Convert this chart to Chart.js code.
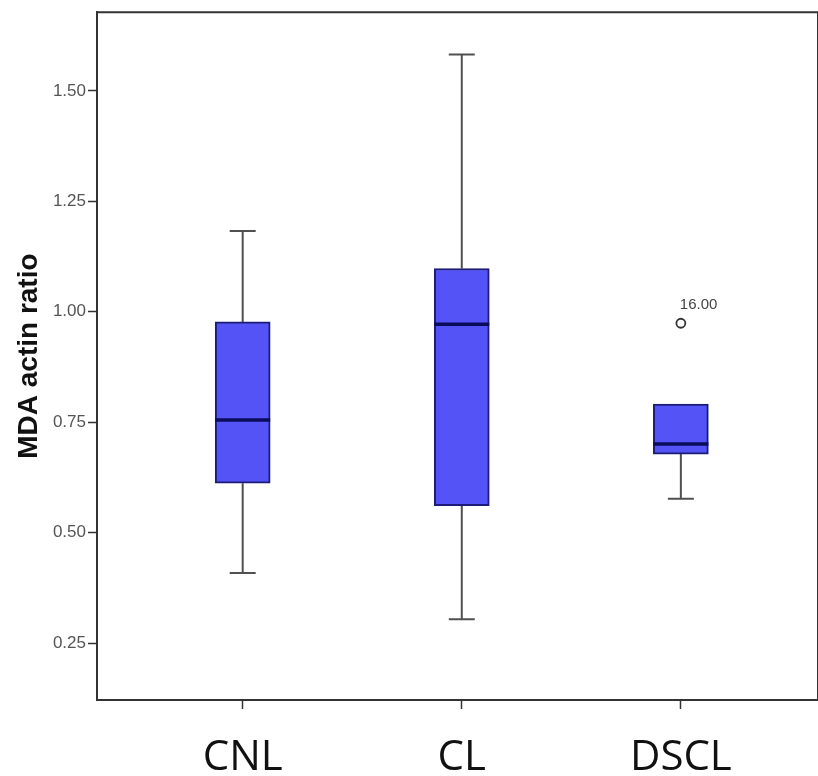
<!DOCTYPE html>
<html>
<head>
<meta charset="utf-8">
<title>MDA actin ratio</title>
<script src="https://cdn.jsdelivr.net/npm/chart.js@4.4.1/dist/chart.umd.min.js"></script>
<style>
  html, body { margin: 0; padding: 0; background: #fff; overflow: hidden; }
  #wrap { width: 818px; height: 776px; }
</style>
</head>
<body>
<div id="wrap"><canvas id="box"></canvas></div>
<script>
// data
var categories = ['CNL', 'CL', 'DSCL'];
var whiskerLow = [0.409, 0.304, 0.577];
var q1 = [0.612, 0.561, 0.678];
var medians = [0.755, 0.972, 0.701];
var q3 = [0.977, 1.098, 0.791];
var whiskerHigh = [1.183, 1.582, 0.791];

// outliers (category index, value, case label)
var outlierCat = [2];
var outlierValues = [0.974];
var outlierLabels = ['16.00'];

var yTicks = [0.25, 0.50, 0.75, 1.00, 1.25, 1.50];

var tickFont = "'Liberation Sans', Arial, sans-serif";

// whiskers, medians, case labels and the frame
var boxExtras = {
  id: 'boxExtras',
  beforeDatasetsDraw: function(chart) {
    var ctx = chart.ctx, x = chart.scales.x, y = chart.scales.y;
    ctx.save();
    ctx.strokeStyle = '#505050';
    ctx.lineWidth = 2;
    for (var i = 0; i < categories.length; i++) {
      var cx = x.getPixelForValue(i);
      var pairs = [[q3[i], whiskerHigh[i]], [q1[i], whiskerLow[i]]];
      pairs.forEach(function(p) {
        if (p[0] === p[1]) return;
        var y0 = y.getPixelForValue(p[0]), y1 = y.getPixelForValue(p[1]);
        ctx.beginPath();
        ctx.moveTo(cx, y0);
        ctx.lineTo(cx, y1);
        ctx.moveTo(cx - 13, y1);
        ctx.lineTo(cx + 13, y1);
        ctx.stroke();
      });
    }
    ctx.restore();
  },
  afterDatasetsDraw: function(chart) {
    var ctx = chart.ctx, x = chart.scales.x, y = chart.scales.y;
    var area = chart.chartArea;
    var bars = chart.getDatasetMeta(0).data;
    ctx.save();
    // medians
    ctx.strokeStyle = '#0b0b5c';
    ctx.lineWidth = 3.5;
    bars.forEach(function(el, i) {
      var my = y.getPixelForValue(medians[i]);
      ctx.beginPath();
      ctx.moveTo(el.x - el.width / 2, my);
      ctx.lineTo(el.x + el.width / 2, my);
      ctx.stroke();
    });
    // outlier labels
    ctx.fillStyle = '#444';
    ctx.font = '15px ' + tickFont;
    ctx.textAlign = 'left';
    ctx.textBaseline = 'alphabetic';
    for (var k = 0; k < outlierValues.length; k++) {
      ctx.fillText(outlierLabels[k], x.getPixelForValue(outlierCat[k]) - 1, y.getPixelForValue(outlierValues[k]) - 14);
    }
    // top and right frame
    ctx.strokeStyle = '#333';
    ctx.lineWidth = 2;
    ctx.beginPath();
    ctx.moveTo(area.left, area.top);
    ctx.lineTo(area.right, area.top);
    ctx.lineTo(area.right, area.bottom);
    ctx.stroke();
    ctx.restore();
  }
};

var boxData = categories.map(function(c, i) {
  return { x: i, y: [q1[i], q3[i]] };
});
var outlierData = outlierValues.map(function(v, k) {
  return { x: outlierCat[k], y: v };
});

var chart = new Chart(document.getElementById('box'), {
  type: 'bar',
  data: {
    datasets: [{
      data: boxData,
      backgroundColor: '#5454f6',
      borderColor: '#1c1c78',
      borderWidth: 2,
      borderSkipped: false,
      barThickness: 55
    }, {
      type: 'scatter',
      data: outlierData,
      pointStyle: 'circle',
      pointRadius: 4.5,
      pointBackgroundColor: '#fff',
      pointBorderColor: '#333',
      pointBorderWidth: 1.8
    }]
  },
  options: {
    responsive: true,
    maintainAspectRatio: false,
    animation: false,
    layout: { autoPadding: false, padding: { top: 10, right: 0, left: 0, bottom: 0 } },
    plugins: {
      legend: { display: false },
      tooltip: { enabled: false }
    },
    scales: {
      x: {
        type: 'linear',
        offset: false,
        bounds: 'data',
        min: -0.665,
        max: 2.626,
        afterBuildTicks: function(scale) {
          scale.ticks = categories.map(function(c, i) { return { value: i }; });
        },
        afterFit: function(scale) {
          scale.height = 76;
          scale.paddingLeft = 0;
          scale.paddingRight = 0;
        },
        grid: { offset: false, drawOnChartArea: false, drawTicks: true, tickLength: 9, tickColor: '#333', tickWidth: 1.5 },
        border: { display: true, color: '#333', width: 2 },
        ticks: {
          maxRotation: 0,
          autoSkip: false,
          padding: 24,
          color: '#111',
          font: { family: "'Open Sans', 'Noto Sans', sans-serif", size: 42 },
          callback: function(v) { return categories[v]; }
        }
      },
      y: {
        min: 0.1214,
        max: 1.678,
        afterBuildTicks: function(scale) {
          scale.ticks = yTicks.map(function(v) { return { value: v }; });
        },
        afterFit: function(scale) { scale.width = 97; },
        grid: { drawOnChartArea: false, drawTicks: true, tickLength: 9, tickColor: '#333', tickWidth: 1.5 },
        border: { display: true, color: '#333', width: 2 },
        ticks: {
          padding: 2,
          color: '#555',
          font: { family: tickFont, size: 17 },
          callback: function(v) { return v.toFixed(2); }
        },
        title: {
          display: true,
          text: 'MDA actin ratio',
          color: '#111',
          padding: { top: 12, bottom: 0 },
          font: { family: tickFont, size: 28, weight: 'bold' }
        }
      }
    }
  },
  plugins: [boxExtras]
});
</script>
</body>
</html>
